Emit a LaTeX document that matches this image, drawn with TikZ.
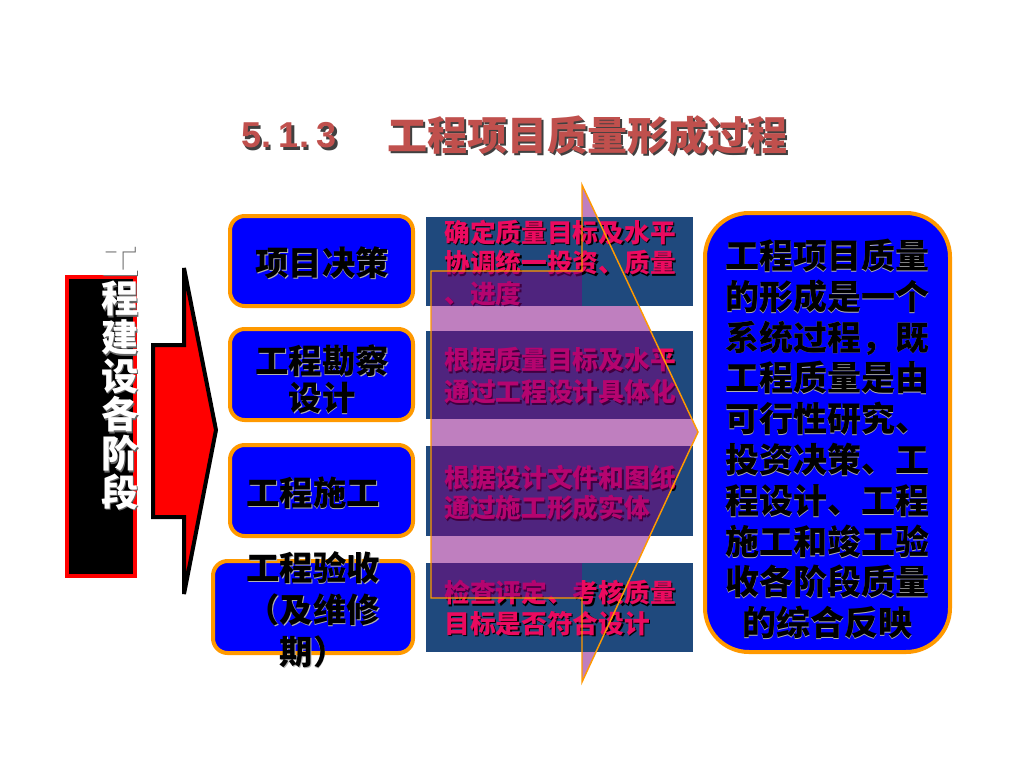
\documentclass[tikz,border=0pt]{standalone}
\usepackage{fontspec}
\setmainfont{Noto Sans CJK SC}
\newfontfamily\latinb{Liberation Sans}
\usetikzlibrary{calc}
\definecolor{orng}{RGB}{255,153,0}
\definecolor{bblue}{RGB}{0,0,255}
\definecolor{navy}{RGB}{31,73,125}
\definecolor{pinktxt}{RGB}{235,10,95}
\definecolor{titlered}{RGB}{192,80,77}
\definecolor{purp}{RGB}{128,0,128}
\newcommand{\sht}[5]{\node[#1,#2] at #4 {#5};\node[#1] (#3) at #4 {#5};}
\begin{document}
\begin{tikzpicture}[x=0.75pt,y=-0.75pt,
  titletxt/.style={inner sep=0pt,text=titlered,font=\bfseries\fontsize{30}{36}\selectfont},
  titlesh/.style={text=black!75,xshift=2pt,yshift=-2pt},
  whitesh/.style={text=gray!60,xshift=0.7pt,yshift=-0.7pt},
  darksh/.style={text=black!60,xshift=1.2pt,yshift=-1.2pt},
  blacksh/.style={text=black,xshift=1.1pt,yshift=-1.1pt},
  vtxt/.style={inner sep=0pt,text=white,align=center,font=\bfseries\fontsize{28}{29}\selectfont},
  boxtxt/.style={inner sep=0pt,text=black,align=center,font=\bfseries\fontsize{25}{28}\selectfont},
  ptxt/.style={inner sep=0pt,text=pinktxt,align=left,anchor=west,font=\bfseries\fontsize{19.3}{22.8}\selectfont},
  bluebox/.style={fill=bblue,draw=orng,line width=3pt,rounded corners=11pt},
  navybox/.style={fill=navy},
  purpfill/.style={fill=purp,fill opacity=0.5},
  rtxt/.style={inner sep=0pt,text=black,align=center,font=\bfseries\fontsize{25.5}{30.6}\selectfont}]
\useasboundingbox (0,0) rectangle (1024,768);
\fill[white] (0,0) rectangle (1024,768);
% title
\sht{titletxt,font=\latinb\bfseries\fontsize{27}{32}\selectfont}{titlesh}{tnum}{(289,135)}{5.\hspace{0.22em}1.\hspace{0.22em}3}
\sht{titletxt}{titlesh}{ttl}{(587,135)}{工程项目质量形成过程}
% left black box and vertical text
\draw[fill=black,draw=red,line width=2.5pt] (67,277) rectangle (135,576);
\sht{vtxt}{darksh}{stage}{(120,378)}{工\\程\\建\\设\\各\\阶\\段}
% red arrow
\draw[fill=red,draw=black,line width=3pt,line join=miter]
  (153,345) -- (184,345) -- (184,268) -- (216,430) -- (184,594) -- (184,517) -- (153,517) -- cycle;
% blue boxes
\path[bluebox] (230,216) rectangle (413,306);
\path[bluebox] (230,329) rectangle (413,420);
\path[bluebox] (230,445) rectangle (413,536);
\path[bluebox] (213,561) rectangle (413,653);
\sht{boxtxt}{whitesh}{b1}{(322,263)}{项目决策}
\sht{boxtxt,font=\bfseries\fontsize{25}{27.5}\selectfont}{whitesh}{b2}{(322,379)}{工程勘察\\设计}
\sht{boxtxt}{whitesh}{b3}{(313,493)}{工程施工}
\sht{boxtxt,font=\bfseries\fontsize{25}{31.5}\selectfont}{whitesh}{b4}{(313,610)}{工程验收\\（及维修\\期）}
% navy rects 2 and 3 (below arrow head)
\path[navybox] (426,331) rectangle (693,419);
\path[navybox] (426,446) rectangle (693,536);
\sht{ptxt,font=\bfseries\fontsize{19.3}{24}\selectfont}{blacksh}{r2}{(444,376)}{根据质量目标及水平\\通过工程设计具体化}
\sht{ptxt}{blacksh}{r3}{(444,493)}{根据设计文件和图纸\\通过施工形成实体}
% arrow head
\coordinate (htop) at (582,185);
\coordinate (tip) at (698,432);
\coordinate (hbot) at (582,682);
\path[purpfill] (htop) -- (tip) -- (hbot) -- cycle;
% navy rects 1 and 4 (above arrow head)
\path[navybox] (426,217) rectangle (693,306);
\path[navybox] (426,563) rectangle (693,652);
\sht{ptxt}{blacksh}{r1}{(444,263)}{确定质量目标及水平\\协调统一投资、质量\\、进度}
\sht{ptxt}{blacksh}{r4}{(444,608)}{检查评定、考核质量\\目标是否符合设计}
% arrow shaft
\path[purpfill] (431,271) rectangle (582,598);
% arrow outline
\draw[orng,line width=1.1pt,line join=miter]
  (htop) -- (582,271) -- (431,271) -- (431,598) -- (582,598) -- (hbot) -- (tip) -- cycle;
% right box
\path[bluebox,rounded corners=33pt] (705,213) rectangle (950,652);
\sht{rtxt}{whitesh}{summary}{(827,439)}{工程项目质量\\的形成是一个\\系统过程，既\\工程质量是由\\可行性研究、\\投资决策、工\\程设计、工程\\施工和竣工验\\收各阶段质量\\的综合反映}
\end{tikzpicture}
\end{document}
